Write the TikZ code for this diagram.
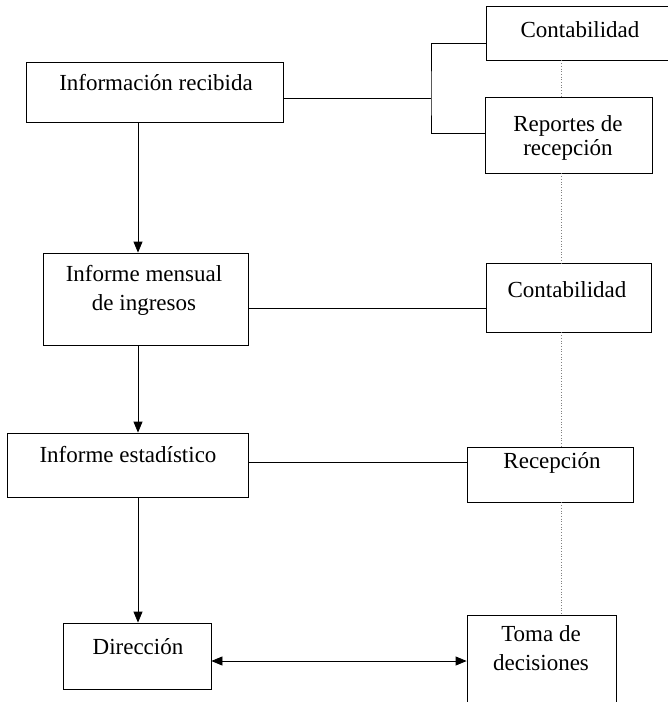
\documentclass[tikz,border=0pt]{standalone}
\usepackage{fontspec}
\setmainfont{Liberation Serif}
\usetikzlibrary{arrows.meta}
\begin{document}
\begin{tikzpicture}[x=1pt,y=-1pt,
  box/.style={draw, line width=0.8pt, inner sep=0pt},
  txt/.style={font=\fontsize{23}{29}\selectfont, align=center, inner sep=0pt},
  link/.style={line width=0.8pt},
  flow/.style={line width=0.8pt, -{Triangle[length=11pt,width=9pt]}},
  both/.style={line width=0.8pt, {Triangle[length=11pt,width=9pt]}-{Triangle[length=11pt,width=9pt]}},
  trace/.style={dotted, line width=0.7pt, gray}]
\useasboundingbox (0,0) rectangle (668,702);

% left column
\node[box, minimum width=257pt, minimum height=60pt] (info) at (154.5,92) {};
\node[txt] (infot) at (156,83) {Información recibida};
\node[box, minimum width=205pt, minimum height=92pt] (mens) at (145.5,299) {};
\node[txt] (menst) at (144,290) {Informe mensual\\de ingresos};
\node[box, minimum width=241pt, minimum height=64pt] (esta) at (127.5,465) {};
\node[txt] (estat) at (128,455) {Informe estadístico};
\node[box, minimum width=148pt, minimum height=66pt] (dir) at (137,656) {};
\node[txt] (dirt) at (138,647) {Dirección};

% right column
\node[box, minimum width=182pt, minimum height=54pt] (cont1) at (577,33) {};
\node[txt] (cont1t) at (580,30) {Contabilidad};
\node[box, minimum width=167pt, minimum height=76pt] (rep) at (568.5,135) {};
\node[txt, font=\fontsize{23}{24}\selectfont] (rept) at (568,138) {Reportes de\\recepción};
\node[box, minimum width=165pt, minimum height=69pt] (cont2) at (568.5,297.5) {};
\node[txt] (cont2t) at (567,290) {Contabilidad};
\node[box, minimum width=166pt, minimum height=55pt] (rec) at (550,474.5) {};
\node[txt] (rect) at (552,463) {Recepción};
\node[box, minimum width=149pt, minimum height=90pt] (toma) at (541.5,660) {};
\node[txt] (tomat) at (541,648) {Toma de\\decisiones};

% main flow
\draw[flow] (info.south -| 138,0) -- (mens.north -| 138,0);
\draw[flow] (mens.south -| 138,0) -- (esta.north -| 138,0);
\draw[flow] (esta.south -| 138,0) -- (dir.north -| 138,0);
\draw[both] (dir.east |- 0,661) -- (toma.west |- 0,661);

% links to sources
\coordinate (fork) at (431,98);
\draw[link] (info.east |- fork) -- (fork);
\draw[link] (cont1.west |- 0,43) -| (fork) |- (rep.west |- 0,133);
\draw[link] (mens.east |- 0,308) -- (cont2.west |- 0,308);
\draw[link] (esta.east |- 0,462) -- (rec.west |- 0,462);

% dotted trace between right boxes
\draw[trace] (cont1.south -| 561,0) -- (rep.north -| 561,0);
\draw[trace] (rep.south -| 561,0) -- (cont2.north -| 561,0);
\draw[trace] (cont2.south -| 561,0) -- (rec.north -| 561,0);
\draw[trace] (rec.south -| 561,0) -- (toma.north -| 561,0);
\end{tikzpicture}
\end{document}
